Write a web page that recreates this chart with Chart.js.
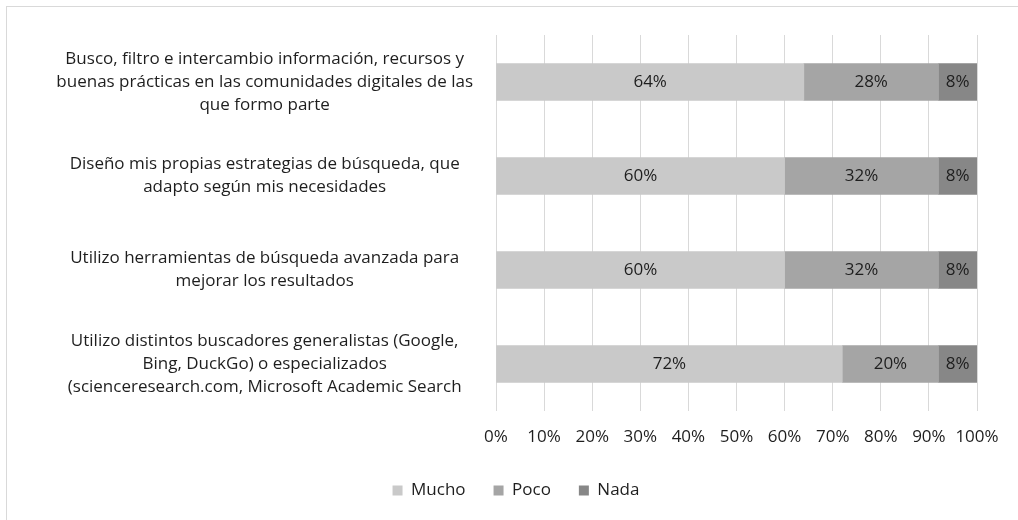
<!DOCTYPE html>
<html>
<head>
<meta charset="utf-8">
<script src="https://cdn.jsdelivr.net/npm/chart.js@4"></script>
<style>
  html, body { margin: 0; padding: 0; background: #fff; overflow: hidden; }
  #frame { position: absolute; left: 6px; top: 6px; width: 1100px; height: 600px; border: 1px solid #d9d9d9; }
  #wrap { position: absolute; left: 0; top: 0; width: 1018px; height: 520px; }
</style>
</head>
<body>
<div id="frame"></div>
<div id="wrap"><canvas id="chart"></canvas></div>
<script>
// Données du graphique
const categories = [
    ['Busco, filtro e intercambio información, recursos y', 'buenas prácticas en las comunidades digitales de las', 'que formo parte'],
    ['Diseño mis propias estrategias de búsqueda, que', 'adapto según mis necesidades'],
    ['Utilizo herramientas de búsqueda avanzada para', 'mejorar los resultados'],
    ['Utilizo distintos buscadores generalistas (Google,', 'Bing, DuckGo) o especializados', '(scienceresearch.com, Microsoft Academic Search']
];
const mucho = [64, 60, 60, 72];
const poco = [28, 32, 32, 20];
const nada = [8, 8, 8, 8];
const seriesNames = ['Mucho', 'Poco', 'Nada'];
const seriesColors = ['#c9c9c9', '#a5a5a5', '#878787'];

const FONT = '"Open Sans", Lato, sans-serif';
const SIZE = 17;

// Étiquettes de valeur au centre de chaque segment
const valueLabels = {
    id: 'valueLabels',
    afterDatasetsDraw(chart) {
        const ctx = chart.ctx;
        ctx.save();
        ctx.font = SIZE + 'px ' + FONT;
        ctx.fillStyle = '#1e1e1e';
        ctx.textAlign = 'center';
        ctx.textBaseline = 'middle';
        chart.data.datasets.forEach((ds, i) => {
            const meta = chart.getDatasetMeta(i);
            meta.data.forEach((bar, j) => {
                const cx = (bar.x + bar.base) / 2;
                ctx.fillText(ds.data[j] + '%', cx, bar.y);
            });
        });
        ctx.restore();
    }
};

document.addEventListener('DOMContentLoaded', function() {
    const ctx = document.getElementById('chart').getContext('2d');
    new Chart(ctx, {
        type: 'bar',
        data: {
            labels: categories,
            datasets: [
                { label: seriesNames[0], data: mucho, backgroundColor: seriesColors[0] },
                { label: seriesNames[1], data: poco, backgroundColor: seriesColors[1] },
                { label: seriesNames[2], data: nada, backgroundColor: seriesColors[2] }
            ]
        },
        options: {
            indexAxis: 'y',
            responsive: true,
            maintainAspectRatio: false,
            animation: false,
            layout: { padding: { left: 55, right: 41, top: 35, bottom: 11 } },
            datasets: { bar: { barThickness: 37 } },
            scales: {
                x: {
                    stacked: true,
                    min: 0,
                    max: 100,
                    ticks: {
                        stepSize: 10,
                        padding: 16,
                        maxRotation: 0,
                        minRotation: 0,
                        autoSkip: false,
                        color: '#1e1e1e',
                        font: { family: FONT, size: SIZE },
                        callback: v => v + '%'
                    },
                    grid: { color: '#d9d9d9', lineWidth: 1, drawTicks: false },
                    border: { display: false },
                    afterFit(scale) { scale.height = 43; }
                },
                y: {
                    stacked: true,
                    ticks: {
                        crossAlign: 'center',
                        padding: 23,
                        color: '#1e1e1e',
                        font: { family: FONT, size: SIZE, lineHeight: 1.37 }
                    },
                    grid: { display: false, drawTicks: false },
                    border: { display: false },
                    afterFit(scale) {
                        scale.width = 441;
                        scale.paddingTop = 0;
                        scale.paddingBottom = 0;
                    }
                }
            },
            plugins: {
                legend: {
                    position: 'bottom',
                    labels: {
                        boxWidth: 10,
                        boxHeight: 10,
                        padding: 28,
                        color: '#1e1e1e',
                        font: { family: FONT, size: SIZE }
                    }
                },
                tooltip: { enabled: false }
            }
        },
        plugins: [valueLabels]
    });
});
</script>
</body>
</html>
